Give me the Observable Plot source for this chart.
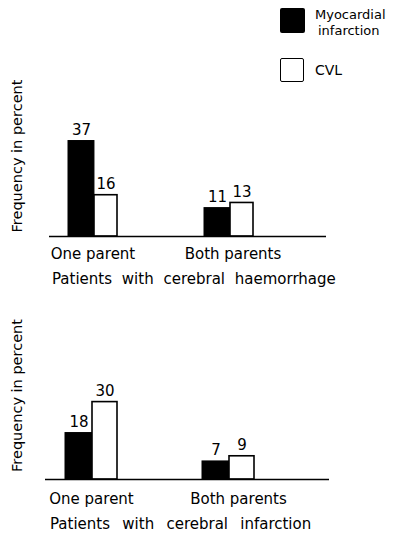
<!DOCTYPE html>
<html>
<head>
<meta charset="utf-8">
<script src="https://cdn.jsdelivr.net/npm/d3@7"></script>
<script src="https://cdn.jsdelivr.net/npm/@observablehq/plot@0.6"></script>
<style>
  html, body { margin: 0; padding: 0; background: #fff; }
  body { width: 399px; height: 534px; overflow: hidden; font-family: "DejaVu Sans", sans-serif; color: #000; }
  #wrap { position: relative; width: 399px; height: 534px; }
  .abs { position: absolute; white-space: nowrap; }
  svg { display: block; }
</style>
</head>
<body>
<div id="wrap"></div>
<script>
// ---- data ----
const groups = ["One parent", "Both parents"];
const seriesNames = ["Myocardial infarction", "CVL"];
const haemorrhageMI = [37, 11];
const haemorrhageCVL = [16, 13];
const infarctionMI = [18, 7];
const infarctionCVL = [30, 9];
const panelTitles = ["Patients with cerebral haemorrhage", "Patients with cerebral infarction"];
const yTitle = "Frequency in percent";

const wrap = document.getElementById("wrap");
const FONT = "DejaVu Sans, sans-serif";
const PX_PER_UNIT = 2.58;

function rows(mi, cvl) {
  const out = [];
  groups.forEach((g, i) => {
    out.push({group: g, series: seriesNames[0], value: mi[i]});
    out.push({group: g, series: seriesNames[1], value: cvl[i]});
  });
  return out;
}

function panel({mi, cvl, top, height, mL, mR, mT, mB, pi, po, align, splitPx, tickPad, tick2Dx, yTitleX}) {
  const data = rows(mi, cvl);
  const range = [mL, 399 - mR];
  const bw = d3.scaleBand().domain(groups).range(range).paddingInner(pi).paddingOuter(po).align(align).bandwidth();
  const base = height - mB;
  const blackDx = splitPx / 2 - bw / 2;
  const whiteDx = splitPx / 2;
  const isMI = d => d.series === seriesNames[0];
  const plot = Plot.plot({
    width: 399,
    height,
    marginLeft: mL,
    marginRight: mR,
    marginTop: mT,
    marginBottom: mB,
    style: {fontFamily: FONT, fontSize: "15px", color: "#000", background: "transparent"},
    x: {domain: groups, range, paddingInner: pi, paddingOuter: po, align, label: null},
    y: {domain: [0, 40], range: [base, base - 40 * PX_PER_UNIT], axis: null},
    marks: [
      Plot.barY(data.filter(isMI), {x: "group", y: "value", fill: "#000", stroke: "#000", strokeWidth: 1, insetRight: bw - splitPx}),
      Plot.barY(data.filter(d => !isMI(d)), {x: "group", y: "value", fill: "#fff", stroke: "#000", strokeWidth: 1.6, insetLeft: splitPx}),
      Plot.ruleY([0], {stroke: "#000", strokeWidth: 1.6}),
      Plot.text(data.filter(isMI), {x: "group", y: "value", text: d => String(d.value), dx: blackDx, dy: -11, fontSize: 15}),
      Plot.text(data.filter(d => !isMI(d)), {x: "group", y: "value", text: d => String(d.value), dx: whiteDx, dy: -11, fontSize: 15}),
      Plot.axisX({ticks: [groups[0]], tickSize: 0, tickPadding: tickPad, fontSize: 15, label: null}),
      Plot.axisX({ticks: [groups[1]], tickSize: 0, tickPadding: tickPad, dx: tick2Dx, fontSize: 15, label: null}),
      Plot.text([yTitle], {frameAnchor: "left", textAnchor: "middle", rotate: -90, dx: -(mL - yTitleX), fontSize: 14.5})
    ]
  });
  plot.style.position = "absolute";
  plot.style.left = "0px";
  plot.style.top = top + "px";
  wrap.appendChild(plot);
}

panel({mi: haemorrhageMI, cvl: haemorrhageCVL, top: 0, height: 290,
  mL: 49, mR: 73, mT: 75, mB: 54, pi: 0.642, po: 0.332, align: 0.21, splitPx: 26, tickPad: 12, tick2Dx: 4, yTitleX: 17});
panel({mi: infarctionMI, cvl: infarctionCVL, top: 290, height: 244,
  mL: 45, mR: 70, mT: 21, mB: 55, pi: 0.622, po: 0.344, align: 0.21, splitPx: 27, tickPad: 14, tick2Dx: 10, yTitleX: 17});

function addText(txt, left, centerY, size, lh, extra) {
  const d = document.createElement("div");
  d.className = "abs";
  d.textContent = txt;
  d.style.left = left + "px";
  d.style.top = (centerY - lh / 2) + "px";
  d.style.fontSize = size + "px";
  d.style.lineHeight = lh + "px";
  if (extra) Object.assign(d.style, extra);
  wrap.appendChild(d);
}

addText(panelTitles[0], 52, 279, 15, 17, {wordSpacing: "5px"});
addText(panelTitles[1], 50, 524, 15, 17, {wordSpacing: "7.5px"});

// legend
function swatch(left, top, black) {
  const s = document.createElement("div");
  s.className = "abs";
  s.style.left = left + "px";
  s.style.top = top + "px";
  s.style.width = (black ? 25 : 22) + "px";
  s.style.height = (black ? 25 : 22) + "px";
  s.style.borderRadius = "2px";
  s.style.background = black ? "#000" : "#fff";
  if (!black) s.style.border = "1.5px solid #000";
  wrap.appendChild(s);
}
swatch(280, 8, true);
swatch(280, 58, false);
addText("Myocardial", 315, 14, 13, 13);
addText("infarction", 318, 30, 13, 13);
addText(seriesNames[1], 315, 70, 14, 15);
</script>
</body>
</html>
